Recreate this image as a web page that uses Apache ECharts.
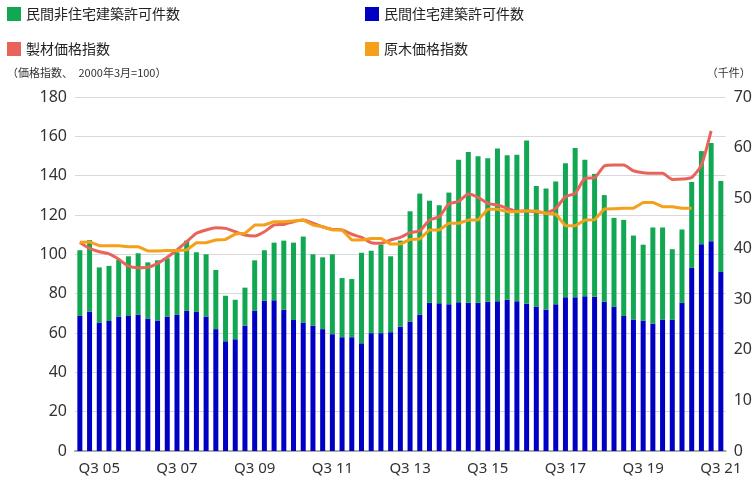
<!DOCTYPE html><html><head><meta charset="utf-8"><script src="https://cdn.jsdelivr.net/npm/echarts@6/dist/echarts.min.js"></script></head><body style="margin:0"><div id="c" style="width:755px;height:487px"></div><script>
const categories=[];for(let y=5;y<=21;y++){for(let q=1;q<=4;q++){if(y===21&&q>3)break;categories.push('Q'+q+' '+String(y).padStart(2,'0'));}}
const residential=[26.7,27.6,25.4,25.7,26.6,26.7,27.0,26.2,25.8,26.6,26.9,27.7,27.5,26.6,24.1,21.7,22.1,24.8,27.7,29.7,29.8,27.9,25.9,25.4,24.8,24.1,23.1,22.5,22.5,21.3,23.3,23.3,23.5,24.6,25.6,27.0,29.3,29.2,29.0,29.4,29.3,29.3,29.5,29.6,29.9,29.6,29.1,28.5,28.0,29.0,30.4,30.4,30.6,30.5,29.5,28.5,26.7,26.0,25.8,25.2,26.0,26.0,29.3,36.2,40.9,41.5,35.4];
const nonResidential=[13.0,14.1,10.9,10.9,11.2,11.8,12.1,11.1,11.9,11.5,12.4,13.9,11.8,12.3,11.7,9.0,7.8,7.5,10.0,10.0,11.4,13.7,15.3,17.0,14.1,14.2,15.8,11.7,11.5,17.9,16.3,17.5,15.0,17.0,21.8,23.9,20.2,19.4,22.1,28.2,29.8,29.0,28.4,30.2,28.6,29.0,32.3,23.9,23.9,24.3,26.5,29.5,27.0,24.3,21.1,17.6,19.0,16.6,15.0,19.0,18.2,13.9,14.5,17.0,18.4,19.4,18.0];
const lumberIndex=[106,103,101.3,100.2,97.5,94,93.2,93.4,95.4,98.5,102.2,106.4,110.7,112.4,113.5,113.2,111.5,109.8,109.3,111.5,114.9,115.2,116.6,117.4,115.8,114,112.7,112.4,110.2,108.6,105.9,105.6,107.3,108.6,111,112,117.4,119.1,125.6,126.9,130.7,129,125.9,125.1,123.4,121.9,122.2,121.5,121.1,123.4,129.3,131,138.6,139,144.9,145.4,145.4,142.5,141.5,141.2,141.2,138.1,138.3,139.1,145.4,162.8,null];
const logIndex=[106.1,106.3,104.4,104.4,104.4,103.9,103.9,101.7,101.7,102,102,102.2,105.9,105.9,107.3,107.6,110.3,110.7,114.9,114.9,116.6,116.6,117,117.4,114.9,114,112.4,112.4,107.3,107.3,108.1,108.1,105.2,105.2,107.6,107.8,112.4,112.4,115.8,115.8,117.4,117.4,122.9,122.9,121.7,121.7,122,122,120.8,120.5,114.5,114.5,117.4,117.6,123,123.2,123.4,123.4,126.4,126.4,124.2,124.2,123.4,123.4,null,null,null];
const leftTicks=[0,180,20], rightTicks=[0,70,10];
const C={g:'#12a853',b:'#0000c4',r:'#e8645a',o:'#f5a01a'};
const lg=(name,x,y,color)=>({data:[name],left:x,top:y,itemWidth:14,itemHeight:14,icon:'rect',textStyle:{fontSize:14,color:'#222',fontFamily:'Noto Sans CJK JP'},itemGap:8});
const ch=echarts.init(document.getElementById('c'));
ch.setOption({animation:false,
legend:[lg('民間非住宅建築許可件数',2,2),lg('民間住宅建築許可件数',360,2),lg('製材価格指数',2,37),lg('原木価格指数',360,37)],
grid:{left:75,right:27,top:97,bottom:36},
xAxis:{type:'category',data:categories,axisTick:{show:false},axisLine:{lineStyle:{color:'#aaa',width:2}},
 axisLabel:{interval:(i)=>(i-2)%8===0,fontSize:15,color:'#333',margin:10,fontFamily:'Noto Sans'}},
yAxis:[{type:'value',min:leftTicks[0],max:leftTicks[1],interval:leftTicks[2],name:'（価格指数、　2000年3月=100）',nameTextStyle:{fontSize:11,color:'#333',align:'left',padding:[0,0,4,-68],fontFamily:'Noto Sans CJK JP'},
 axisLabel:{fontSize:16,color:'#333',fontFamily:'Noto Sans'},splitLine:{lineStyle:{color:'#d8d8de'}}},
 {type:'value',min:rightTicks[0],max:rightTicks[1],interval:rightTicks[2],name:'（千件）',nameTextStyle:{fontSize:11,color:'#333',align:'right',padding:[0,-25,4,0],fontFamily:'Noto Sans CJK JP'},
 axisLabel:{fontSize:16,color:'#333',fontFamily:'Noto Sans'},splitLine:{show:false}}],
series:[
 {name:'民間住宅建築許可件数',type:'bar',stack:'s',yAxisIndex:1,data:residential,barWidth:5,itemStyle:{color:C.b}},
 {name:'民間非住宅建築許可件数',type:'bar',stack:'s',yAxisIndex:1,data:nonResidential,barWidth:5,itemStyle:{color:C.g}},
 {name:'製材価格指数',type:'line',data:lumberIndex,symbol:'none',smooth:0.2,lineStyle:{color:C.r,width:3},itemStyle:{color:C.r}},
 {name:'原木価格指数',type:'line',data:logIndex,symbol:'none',lineStyle:{color:C.o,width:3},itemStyle:{color:C.o}}
]});
</script></body></html>
